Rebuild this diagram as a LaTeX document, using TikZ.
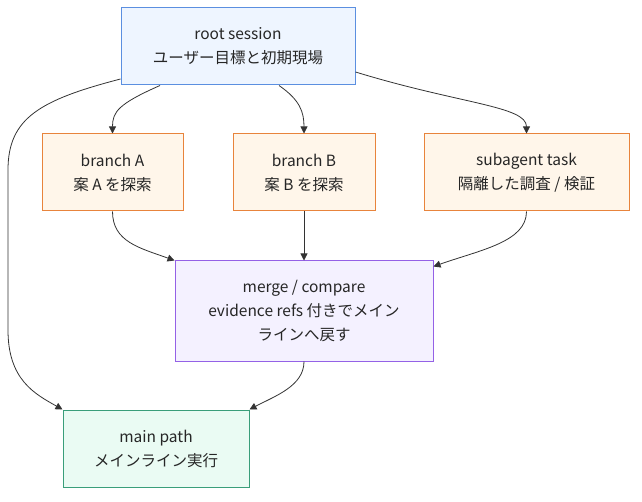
\documentclass[tikz,border=0pt]{standalone}
\usepackage{fontspec}
\setmainfont{Noto Sans CJK JP}
\usetikzlibrary{arrows.meta}
\definecolor{rootfill}{HTML}{EEF5FF}
\definecolor{rootdraw}{HTML}{5B8FE0}
\definecolor{brfill}{HTML}{FFF6EA}
\definecolor{brdraw}{HTML}{E8843C}
\definecolor{mgfill}{HTML}{F4F1FF}
\definecolor{mgdraw}{HTML}{9461E6}
\definecolor{mnfill}{HTML}{EAFBF3}
\definecolor{mndraw}{HTML}{3A9E7A}
\definecolor{edge}{HTML}{333333}
\tikzset{
  box/.style={rectangle, line width=1pt, inner sep=0pt, align=center,
    font=\fontsize{15.5}{24}\selectfont, text=black!85},
  rootbox/.style={box, fill=rootfill, draw=rootdraw},
  brbox/.style={box, fill=brfill, draw=brdraw},
  mgbox/.style={box, fill=mgfill, draw=mgdraw},
  mnbox/.style={box, fill=mnfill, draw=mndraw},
  conn/.style={draw=edge, line width=0.8pt, -{Triangle[length=7pt,width=7pt]}}
}
\begin{document}
\begin{tikzpicture}[x=1pt,y=-1pt]
\useasboundingbox (0,0) rectangle (642,502);
\node[rootbox, minimum width=234pt, minimum height=77pt] (root) at (238,46.5) {root session\\ユーザー目標と初期現場};
\node[brbox, minimum width=141pt, minimum height=77pt] (a) at (112.5,172.5) {branch A\\案 A を探索};
\node[brbox, minimum width=142pt, minimum height=77pt] (b) at (304,172.5) {branch B\\案 B を探索};
\node[brbox, minimum width=205pt, minimum height=77pt] (s) at (526.5,172.5) {subagent task\\隔離した調査 / 検証};
\node[mgbox, minimum width=258pt, minimum height=100pt] (m) at (304,311) {merge / compare\\evidence refs 付きでメイン\\ラインへ戻す};
\node[mnbox, minimum width=186pt, minimum height=77pt] (p) at (156,448.5) {main path\\メインライン実行};
% edges
\draw[conn] ([xshift=-78pt]root.south) .. controls (118,104) and (112.5,112) .. (a.north);
\draw[conn] ([xshift=41pt]root.south) .. controls (300,100) and (304,112) .. (b.north);
\draw[conn] ([yshift=-25.5pt]root.east) .. controls (460,104) and (526.5,106) .. (s.north);
\draw[conn] ([yshift=-32.5pt]root.west) .. controls (40,100) and (8,118) .. (8,170) -- (8,330) .. controls (8,380) and (35,394) .. (p.north west);
\draw[conn] (a.south) .. controls (112.5,242) and (140,248) .. (m.north west);
\draw[conn] (b.south) -- (m.north);
\draw[conn] (s.south) .. controls (526.5,242) and (480,250) .. ([yshift=-6pt]m.north east);
\draw[conn] (m.south) .. controls (304,386) and (275,396) .. (p.north east);
\end{tikzpicture}
\end{document}
